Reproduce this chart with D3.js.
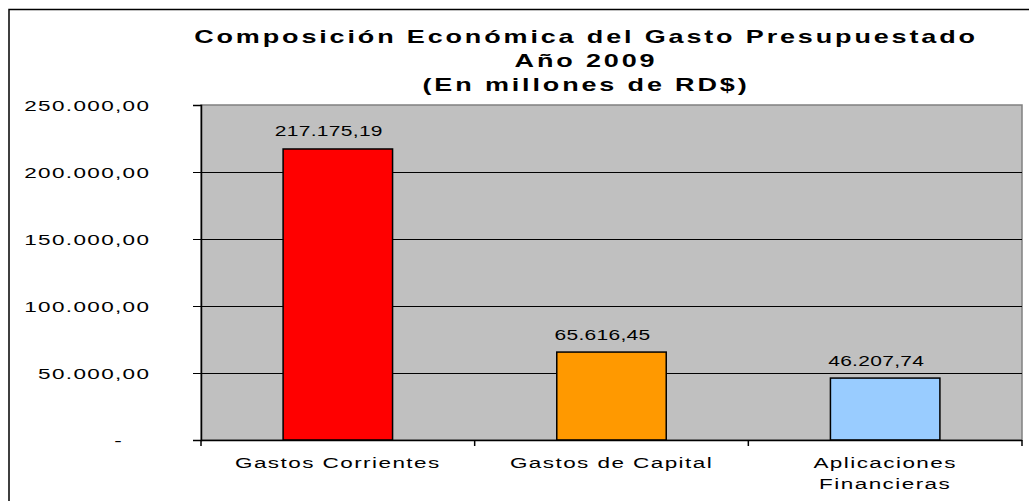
<!DOCTYPE html>
<html><head><meta charset="utf-8">
<script src="https://cdn.jsdelivr.net/npm/d3@7"></script>
<style>
html,body{margin:0;padding:0;background:#fff;}
svg{display:block;}
text{font-family:Arial,"Liberation Sans",sans-serif;fill:#000;}
</style></head>
<body>
<script>
// ---- data ----
const titleLines = ["Composición Económica del Gasto Presupuestado", "Año 2009", "(En millones de RD$)"];
const categories = ["Gastos Corrientes", "Gastos de Capital", "Aplicaciones Financieras"];
const categoryLines = [["Gastos Corrientes"], ["Gastos de Capital"], ["Aplicaciones", "Financieras"]];
const values = [217175.19, 65616.45, 46207.74];
const barColors = ["#FF0000", "#FF9900", "#99CCFF"];
const tickValues = [0, 50000, 100000, 150000, 200000, 250000];
const tickLabels = ["-", "50.000,00", "100.000,00", "150.000,00", "200.000,00", "250.000,00"];

// ---- layout ----
const W = 1029, H = 501;
const plot = {left: 201, right: 1022, top: 105, bottom: 440};
const SX = 1.5;

const svg = d3.select("body").append("svg").attr("width", W).attr("height", H);

const loc = d3.formatLocale({decimal: ",", thousands: ".", grouping: [3], currency: ["", ""]});
const fmt = loc.format(",.2f");

const x = d3.scaleBand().domain(categories).range([plot.left, plot.right]).padding(0);
const y = d3.scaleLinear().domain([0, 250000]).range([plot.bottom, plot.top]);
const barW = x.bandwidth() * 0.4;

function stext(g, str, px, py, opts) {
  return g.append("text")
    .attr("transform", `translate(${px},${py}) scale(${SX},1)`)
    .attr("text-anchor", opts.anchor || "middle")
    .style("font-size", opts.size + "px")
    .style("font-weight", opts.weight || "normal")
    .style("letter-spacing", (opts.ls || 0) + "px")
    .text(str);
}

// outer chart border
svg.append("rect").attr("x", 9).attr("y", 9.5).attr("width", W + 20).attr("height", H + 20)
  .attr("fill", "none").attr("stroke", "#000").attr("stroke-width", 1.5);

// plot background
svg.append("rect").attr("x", plot.left).attr("y", plot.top)
  .attr("width", plot.right - plot.left).attr("height", plot.bottom - plot.top)
  .attr("fill", "#C0C0C0").attr("stroke", "#808080").attr("stroke-width", 1.5);

// gridlines
svg.append("g").selectAll("line").data(tickValues.slice(1, -1)).join("line")
  .attr("x1", plot.left).attr("x2", plot.right)
  .attr("y1", d => Math.round(y(d)) + 0.5).attr("y2", d => Math.round(y(d)) + 0.5)
  .attr("stroke", "#000").attr("stroke-width", 1);

// bars
svg.append("g").selectAll("rect").data(values).join("rect")
  .attr("x", (d, i) => x(categories[i]) + (x.bandwidth() - barW) / 2)
  .attr("y", d => y(d))
  .attr("width", barW)
  .attr("height", d => y(0) - y(d))
  .attr("fill", (d, i) => barColors[i])
  .attr("stroke", "#000").attr("stroke-width", 1.5);

// data labels
const lbl = svg.append("g");
values.forEach((v, i) => {
  stext(lbl, fmt(v), x(categories[i]) + x.bandwidth() / 2 - 9, y(v) - 12.5, {size: 14, ls: 0.2});
});

// y axis
const yAxis = d3.axisLeft(y).tickValues(tickValues).tickSize(8)
  .tickFormat((d, i) => tickLabels[i]);
const ya = svg.append("g").attr("transform", `translate(${plot.left},0)`).call(yAxis);
ya.select(".domain").attr("stroke", "#000").attr("stroke-width", 1.5);
ya.selectAll(".tick line").attr("stroke", "#000");
ya.selectAll(".tick text")
  .attr("x", (d, i) => i === 0 ? -52 : -33.8)
  .attr("dy", "0.36em")
  .attr("transform", `scale(${SX},1)`)
  .style("font-size", "15px").style("letter-spacing", "0.9px")
  .attr("font-family", null).attr("fill", "#000");

// x axis
svg.append("line").attr("x1", plot.left).attr("x2", plot.right)
  .attr("y1", plot.bottom + 0.5).attr("y2", plot.bottom + 0.5)
  .attr("stroke", "#000").attr("stroke-width", 1.5);
const bounds = categories.map(c => x(c)).concat([x(categories[categories.length - 1]) + x.bandwidth()]);
svg.append("g").selectAll("line").data(bounds).join("line")
  .attr("x1", d => d).attr("x2", d => d)
  .attr("y1", plot.bottom).attr("y2", plot.bottom + 6)
  .attr("stroke", "#000").attr("stroke-width", 1.5);

const xl = svg.append("g");
categoryLines.forEach((lines, i) => {
  lines.forEach((ln, j) => {
    stext(xl, ln, x(categories[i]) + x.bandwidth() / 2, 468 + j * 20.5, {size: 15, ls: 0.96});
  });
});

// title
const tg = svg.append("g");
titleLines.forEach((ln, j) => {
  stext(tg, ln, 586, 43 + j * 24, {size: 18, weight: "bold", ls: 1.9});
});
</script>
</body></html>
